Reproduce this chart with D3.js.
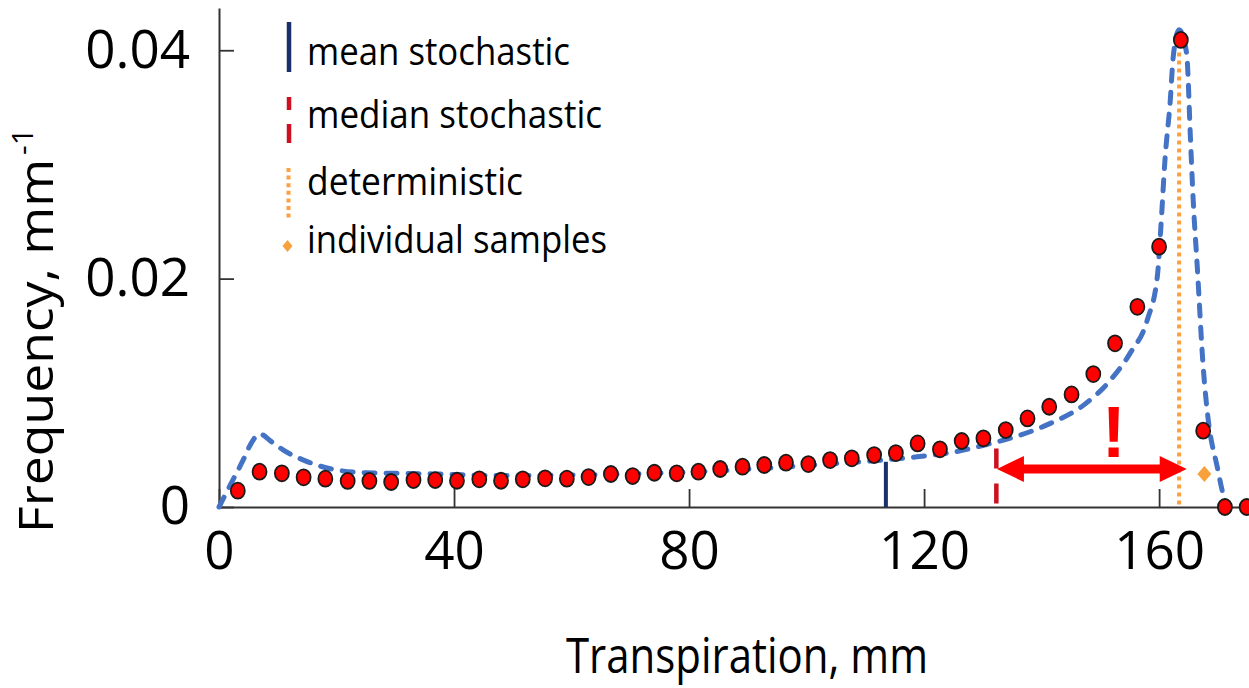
<!DOCTYPE html>
<html>
<head>
<meta charset="utf-8">
<script src="https://cdn.jsdelivr.net/npm/d3@7"></script>
<style>
  body { margin: 0; background: #fff; }
  svg { display: block; font-family: 'Open Sans', sans-serif; }
</style>
</head>
<body>
<svg id="canvas" width="1249" height="688"></svg>
<script>
// Stochastic runs: bin centres (mm) and frequency (1/mm)
let binX = [3.2, 6.9, 10.7, 14.4, 18.1, 21.9, 25.6, 29.3, 33.1, 36.8,
            40.5, 44.3, 48.0, 51.7, 55.5, 59.2, 62.9, 66.7, 70.4, 74.1,
            77.9, 81.6, 85.3, 89.1, 92.8, 96.5, 100.3, 104.0, 107.7, 111.5,
            115.2, 118.9, 122.7, 126.4, 130.1, 133.9, 137.6, 141.3, 145.1, 148.8,
            152.5, 156.3, 160.0, 163.7, 167.5, 171.2, 174.9]
let binFreq = [0.00143, 0.00309, 0.00295, 0.0026, 0.00248, 0.00228, 0.00228, 0.00219, 0.00236, 0.00236,
               0.0023, 0.00242, 0.0023, 0.00242, 0.00251, 0.00248, 0.00262, 0.00289, 0.00271, 0.003,
               0.00295, 0.00309, 0.00333, 0.00353, 0.00368, 0.00388, 0.00376, 0.00411, 0.00426, 0.00455,
               0.00472, 0.00557, 0.00505, 0.00578, 0.00601, 0.00674, 0.00776, 0.00878, 0.00986, 0.01164,
               0.01433, 0.01753, 0.0228, 0.0409, 0.00668, 0, 0]

// dashed distribution curve
let curveX = [0, 2, 4.1, 5.5, 6.9, 9, 10.9, 14.9, 19.4, 25.1, 30.8, 36.4, 47.8, 59.2, 70.5,
              81.9, 93.3, 101.8, 110.3, 118.8, 125, 130.1, 135.8, 141.4, 147.1, 151.7, 155.1, 158,
              159.7, 160.3, 161, 161.9, 162.4, 163.4, 164.4, 164.8, 165.3, 165.8, 166.5, 167.5,
              168.3, 169.9, 171.2, 171.9]
let curveY = [0, 0.002, 0.0041, 0.0056, 0.0064, 0.0057, 0.005, 0.004, 0.0033, 0.003, 0.00295, 0.0029, 0.00275, 0.0028, 0.0029,
              0.0031, 0.0034, 0.0037, 0.004, 0.0044, 0.0048, 0.0054, 0.0062, 0.0073, 0.0089, 0.0111, 0.0135, 0.0164,
              0.0202, 0.0245, 0.0304, 0.0356, 0.0394, 0.0418, 0.0405, 0.039, 0.0327, 0.0269, 0.021, 0.0123,
              0.0079, 0.0035, 0.0006, 0]

let sampleX = [167.7]
let sampleY = [0.0029]

let meanX = 113.5, meanTop = 0.00396
let medianX = 132.3, medianTop = 0.00513
let detX = 163.4, detTop = 0.0398

let arrowFrom = 132.4, arrowTo = 164.7, arrowY = 0.00333, bangX = 152.3

let xTicks = [0, 40, 80, 120, 160]
let yTicks = [0, 0.02, 0.04]

let legendNames = ['mean stochastic', 'median stochastic', 'deterministic', 'individual samples']

let canvas = d3.select('#canvas')

let x = d3.scaleLinear().domain([0, 175.3]).range([219, 1249])
let y = d3.scaleLinear().domain([0, 0.0437]).range([507, 8])

let blue = '#4472C4', navy = '#1B2F6B', darkRed = '#CC1020', orange = '#FFA040'

// axes, ticks pointing inward
let yAxis = canvas.append('g')
    .attr('transform', 'translate(219,0)')
    .call(d3.axisLeft(y).tickValues(yTicks).tickSize(-15).tickSizeOuter(0).tickPadding(29)
        .tickFormat(d => d === 0 ? '0' : d3.format('.2f')(d)))

let xAxis = canvas.append('g')
    .attr('transform', 'translate(0,507)')
    .call(d3.axisBottom(x).tickValues(xTicks).tickSize(-18).tickSizeOuter(0).tickPadding(24))

canvas.selectAll('.domain').attr('stroke', '#333').attr('stroke-width', 2)
canvas.selectAll('.tick line').attr('stroke', '#333').attr('stroke-width', 1.8)
canvas.selectAll('.tick text')
    .attr('font-family', "'Open Sans', sans-serif")
    .attr('font-size', 53)
    .attr('fill', '#000')

// fitted curve
let curveLine = d3.line()
    .x(d => x(d[0]))
    .y(d => y(d[1]))
    .curve(d3.curveMonotoneX)

canvas.append('path')
    .datum(d3.zip(curveX, curveY))
    .attr('d', curveLine)
    .attr('fill', 'none')
    .attr('stroke', blue)
    .attr('stroke-width', 5)
    .attr('stroke-linecap', 'round')
    .attr('stroke-dasharray', '11,11')

// mean / median / deterministic markers
canvas.append('line')
    .attr('x1', x(meanX)).attr('x2', x(meanX))
    .attr('y1', y(meanTop)).attr('y2', y(0))
    .attr('stroke', navy).attr('stroke-width', 4)

canvas.append('line')
    .attr('x1', x(medianX)).attr('x2', x(medianX))
    .attr('y1', y(medianTop)).attr('y2', y(0))
    .attr('stroke', darkRed).attr('stroke-width', 4.5)
    .attr('stroke-dasharray', '20,15')

canvas.append('line')
    .attr('x1', x(detX)).attr('x2', x(detX))
    .attr('y1', y(detTop)).attr('y2', y(0))
    .attr('stroke', orange).attr('stroke-width', 4)
    .attr('stroke-dasharray', '4,4')

// red dots
canvas.selectAll('ellipse.bin')
    .data(d3.zip(binX, binFreq))
    .enter()
    .append('ellipse')
    .attr('class', 'bin')
    .attr('cx', d => x(d[0]))
    .attr('cy', d => y(d[1]))
    .attr('rx', 7)
    .attr('ry', 8)
    .attr('fill', '#FF0000')
    .attr('stroke', '#1a1a1a')
    .attr('stroke-width', 1.8)

// individual samples
let diamond = 'M0,-8L7,0L0,8L-7,0Z'
canvas.selectAll('path.sample')
    .data(d3.zip(sampleX, sampleY))
    .enter()
    .append('path')
    .attr('class', 'sample')
    .attr('d', diamond)
    .attr('transform', d => `translate(${x(d[0])},${y(d[1])})`)
    .attr('fill', '#F7A03C')

// double arrow between median and deterministic
let ax0 = x(arrowFrom), ax1 = x(arrowTo), ay = y(arrowY)
let head = 27, hh = 13, sh = 4.5
let arrowPts = [[ax0, ay], [ax0 + head, ay - hh], [ax0 + head, ay - sh], [ax1 - head, ay - sh],
                [ax1 - head, ay - hh], [ax1, ay], [ax1 - head, ay + hh], [ax1 - head, ay + sh],
                [ax0 + head, ay + sh], [ax0 + head, ay + hh]]
canvas.append('polygon')
    .attr('points', arrowPts.map(p => p.join(',')).join(' '))
    .attr('fill', '#FF0000')

canvas.append('text')
    .attr('x', x(bangX))
    .attr('y', 457)
    .attr('text-anchor', 'middle')
    .attr('font-family', "'Liberation Sans', Arial, sans-serif")
    .attr('font-weight', 'bold')
    .attr('font-size', 72)
    .attr('fill', '#FF0000')
    .text('!')

// legend
let legendBase = [65, 128, 195, 253]
let legendWidth = [263, 295, 216, 300]
let legend = canvas.append('g')

legend.append('line')
    .attr('x1', 289).attr('x2', 289).attr('y1', 22).attr('y2', 72)
    .attr('stroke', navy).attr('stroke-width', 4.5)
legend.append('line')
    .attr('x1', 289).attr('x2', 289).attr('y1', 97).attr('y2', 143)
    .attr('stroke', darkRed).attr('stroke-width', 4.5)
    .attr('stroke-dasharray', '13,14,20,100')
legend.append('line')
    .attr('x1', 288.5).attr('x2', 288.5).attr('y1', 168).attr('y2', 221)
    .attr('stroke', orange).attr('stroke-width', 4)
    .attr('stroke-dasharray', '4,3.6')
legend.append('path')
    .attr('d', 'M0,-6L5,0L0,6L-5,0Z')
    .attr('transform', 'translate(287.5,246)')
    .attr('fill', '#F7A03C')

legend.selectAll('text')
    .data(legendNames)
    .enter()
    .append('text')
    .attr('x', 307)
    .attr('y', (d, i) => legendBase[i])
    .attr('font-size', 39)
    .attr('textLength', (d, i) => legendWidth[i])
    .attr('lengthAdjust', 'spacingAndGlyphs')
    .attr('fill', '#000')
    .text(d => d)

// axis titles
canvas.append('text')
    .attr('x', 747)
    .attr('y', 673)
    .attr('text-anchor', 'middle')
    .attr('font-size', 50)
    .attr('textLength', 362)
    .attr('lengthAdjust', 'spacingAndGlyphs')
    .text('Transpiration, mm')

let yTitle = canvas.append('g').attr('transform', 'translate(53,533) rotate(-90)')
yTitle.append('text')
    .attr('x', 0).attr('y', 0)
    .attr('font-size', 48)
    .attr('textLength', 374)
    .attr('lengthAdjust', 'spacingAndGlyphs')
    .text('Frequency, mm')
yTitle.append('text')
    .attr('x', 378).attr('y', -20)
    .attr('font-size', 30)
    .text('-1')
</script>
</body>
</html>
